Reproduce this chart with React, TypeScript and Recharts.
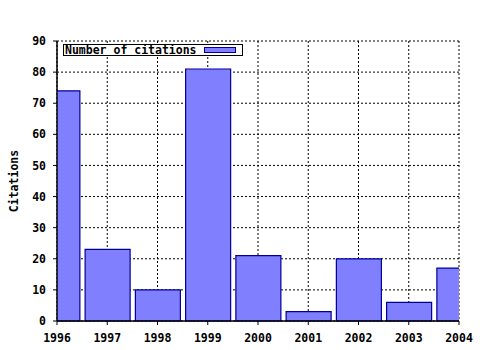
import React from "react"
import {
  ComposedChart,
  Bar,
  XAxis,
  YAxis,
  CartesianGrid,
  Legend,
} from "recharts"

// citations per year
const years = [1996, 1997, 1998, 1999, 2000, 2001, 2002, 2003, 2004]
const citations = [74, 23, 10, 81, 21, 3, 20, 6, 17]
const yTicks = [0, 10, 20, 30, 40, 50, 60, 70, 80, 90]
const minorTicks = years.slice(0, -1).flatMap((y) => [y, y + 0.25, y + 0.5, y + 0.75]).concat([2004])

const data = years.map((year, i) => ({ year, citations: citations[i] }))

const FONT = "'DejaVu Sans Mono', 'Liberation Mono', monospace"
const BAR_FILL = "#8080ff"
const BAR_STROKE = "#000099"

const tickStyle = { fill: "#000", fontFamily: FONT, fontWeight: 700, fontSize: 11.5 }

function LegendBox() {
  return (
    <div
      style={{
        boxSizing: "border-box",
        width: 180,
        height: 12,
        border: "1px solid #000",
        background: "#fff",
        display: "flex",
        alignItems: "center",
        fontFamily: FONT,
        fontWeight: 700,
        fontSize: 11.5,
        lineHeight: "10px",
        color: "#000",
        paddingLeft: 1,
      }}
    >
      <span>Number of citations</span>
      <span
        style={{
          marginLeft: "auto",
          marginRight: 6,
          width: 30,
          height: 4,
          background: BAR_FILL,
          border: `1px solid ${BAR_STROKE}`,
        }}
      />
    </div>
  )
}

export default function App() {
  return (
    <div style={{ position: "absolute", left: 0, top: 0, width: 480, height: 350, background: "#fff" }}>
      <ComposedChart
        width={480}
        height={350}
        data={data}
        margin={{ top: 41, right: 21, bottom: 0, left: 0 }}
      >
        <CartesianGrid stroke="#000" strokeDasharray="2 2" />
        {/* minor ticks under the bottom axis */}
        <XAxis
          xAxisId="minor"
          dataKey="year"
          type="number"
          domain={[1996, 2004]}
          ticks={minorTicks}
          height={0}
          tick={false}
          tickSize={2}
          axisLine={false}
          tickLine={{ stroke: "#000" }}
          allowDataOverflow
        />
        <XAxis
          dataKey="year"
          type="number"
          domain={[1996, 2004]}
          ticks={years}
          interval={0}
          height={29}
          tickSize={4}
          tickMargin={9}
          tick={tickStyle}
          axisLine={{ stroke: "#000", strokeWidth: 1.5 }}
          tickLine={{ stroke: "#000" }}
          allowDataOverflow
        />
        {/* top frame with inward minor ticks */}
        <XAxis
          xAxisId="top"
          dataKey="year"
          type="number"
          orientation="top"
          mirror
          domain={[1996, 2004]}
          ticks={minorTicks}
          height={0}
          tick={false}
          tickSize={2}
          axisLine={{ stroke: "#000", strokeWidth: 1.5 }}
          tickLine={{ stroke: "#000" }}
        />
        <YAxis
          domain={[0, 90]}
          ticks={yTicks}
          interval={0}
          width={57}
          tickSize={4}
          tickMargin={7}
          tick={tickStyle}
          axisLine={{ stroke: "#000", strokeWidth: 1.5 }}
          tickLine={{ stroke: "#000" }}
          label={{
            value: "Citations",
            angle: -90,
            position: "insideLeft",
            offset: 14,
            style: { ...tickStyle, textAnchor: "middle" },
          }}
        />
        <YAxis
          yAxisId="right"
          orientation="right"
          domain={[0, 90]}
          width={0}
          tick={false}
          tickLine={false}
          axisLine={{ stroke: "#000", strokeWidth: 1.5 }}
        />
        <Legend
          layout="vertical"
          align="center"
          verticalAlign="middle"
          wrapperStyle={{ left: 63, top: 44, width: 180 }}
          content={() => <LegendBox />}
        />
        <Bar
          dataKey="citations"
          name="Number of citations"
          barSize={45}
          fill={BAR_FILL}
          stroke={BAR_STROKE}
          strokeWidth={1.2}
          isAnimationActive={false}
        />
      </ComposedChart>
    </div>
  )
}
